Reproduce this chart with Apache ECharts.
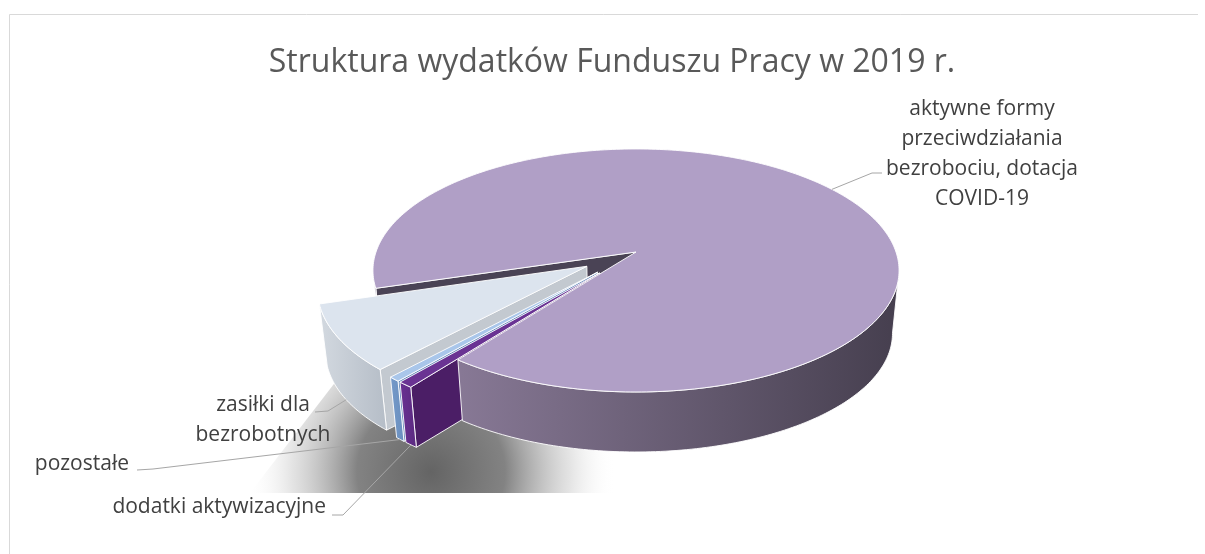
<!DOCTYPE html>
<html><head><meta charset="utf-8">
<script src="https://cdn.jsdelivr.net/npm/echarts@6/dist/echarts.min.js"></script>
<style>html,body{margin:0;padding:0;background:#fff}#c{width:1205px;height:554px}</style>
</head><body><div id="c"></div>
<script>
// ---- data ----
const categories = ['aktywne formy przeciwdziałania bezrobociu, dotacja COVID-19', 'dodatki aktywizacyjne', 'pozostałe', 'zasiłki dla bezrobotnych'];
const labelTexts = ['aktywne formy\nprzeciwdziałania\nbezrobociu, dotacja\nCOVID-19', 'dodatki aktywizacyjne', 'pozostałe', 'zasiłki dla\nbezrobotnych'];
const shares = [90.0, 0.8, 0.6, 8.6];
const exploded = [false, true, true, true];
const titleText = 'Struktura wydatków Funduszu Pracy w 2019 r.';

// ---- styles / layout ----
const startAngle = 253;
const topColors = ['#B09FC6', '#6A3393', '#A9C6EA', '#DCE4EE'];
const faceColors = ['#4A4355', '#4B1E66', '#6488B8', '#C3C9D0'];
const wallColors = [['#887996', '#463f4f'], ['#6A3193', '#5a2a80'], ['#7499C9', '#6a8fbe'], ['#d3d9e0', '#b5bdc7']];
const labelLayout = [
  {x: 982, y: 154, align: 'center', leader: [[882, 173], [872, 173]]},
  {x: 326, y: 507, align: 'right', leader: [[332, 515], [343, 515]]},
  {x: 129, y: 464, align: 'right', leader: [[137, 470], [153, 469]]},
  {x: 263, y: 420, align: 'center', leader: [[315, 412], [328, 411]]}
];
const G = {cx: 636, cy: 252, A: 260, B: 118.7, k: 0.152, s: 0.975, D: 63.5, explode: 0.22};
const FONT = "'Open Sans', 'Noto Sans', sans-serif";

const RAD = Math.PI / 180;
const total = shares.reduce((a, b) => a + b, 0);
const cum = []; let acc = 0; shares.forEach(v => { cum.push(acc); acc += v; });

function P(u, v, bottom) {
  const w = 1 - G.k * v;
  if (!bottom) return [G.cx + G.A * u / w, G.cy + G.B * v / w];
  return [G.cx + G.A * G.s * u / w, G.cy + G.D + G.B * G.s * v / w];
}
function rimPt(th, off, bottom) { return P(off[0] + Math.sin(th * RAD), off[1] - Math.cos(th * RAD), bottom); }
function arc(a, b, off, bottom) {
  const pts = []; const n = Math.max(2, Math.ceil(Math.abs(b - a)));
  for (let j = 0; j <= n; j++) pts.push(rimPt(a + (b - a) * j / n, off, bottom));
  return pts;
}
const silh = Math.acos(-G.k) / RAD;
function visibleRanges(a, b) {
  const out = [];
  for (let n = -1; n <= 2; n++) {
    const lo = silh + 360 * n, hi = 360 - silh + 360 * n;
    const x = Math.max(a, lo), y = Math.min(b, hi);
    if (y > x) out.push([x, y]);
  }
  return out;
}

function renderItem(params, api) {
  const i = params.dataIndex;
  const val = api.value(0);
  const a0 = startAngle + 360 * cum[i] / total;
  const a1 = a0 + 360 * val / total;
  const mid = (a0 + a1) / 2;
  const e = exploded[i] ? G.explode : 0;
  const off = [e * Math.sin(mid * RAD), -e * Math.cos(mid * RAD)];
  const apexT = P(off[0], off[1], false), apexB = P(off[0], off[1], true);
  const edge = {stroke: 'rgba(255,255,255,0.9)', lineWidth: 1, lineJoin: 'round'};
  const n = shares.length - 1;
  const faceZ = exploded[i] ? 2 + (n - i) : 1;
  const baseZ = exploded[i] ? 30 + (n - i) * 2 : 20;
  const children = [];
  if (-Math.sin(a0 * RAD) > 0) {
    children.push({type: 'polygon', z2: faceZ, shape: {points: [apexT, rimPt(a0, off, false), rimPt(a0, off, true), apexB]},
      style: Object.assign({fill: faceColors[i]}, edge)});
  }
  if (Math.sin(a1 * RAD) > 0) {
    children.push({type: 'polygon', z2: faceZ, shape: {points: [apexT, rimPt(a1, off, false), rimPt(a1, off, true), apexB]},
      style: Object.assign({fill: faceColors[i]}, edge)});
  }
  visibleRanges(a0, a1).forEach(r => {
    const pts = arc(r[0], r[1], off, false).concat(arc(r[1], r[0], off, true));
    const grad = i === 0
      ? new echarts.graphic.LinearGradient(G.cx - 0.7 * G.A, 0, G.cx + G.A, 0, [{offset: 0, color: wallColors[i][0]}, {offset: 1, color: wallColors[i][1]}], true)
      : new echarts.graphic.LinearGradient(0, 0, 1, 0, [{offset: 0, color: wallColors[i][0]}, {offset: 1, color: wallColors[i][1]}]);
    children.push({type: 'polygon', z2: baseZ, shape: {points: pts}, style: Object.assign({fill: grad}, edge)});
  });
  children.push({type: 'polygon', z2: baseZ + 1, shape: {points: [apexT].concat(arc(a0, a1, off, false))},
    style: Object.assign({fill: topColors[i]}, edge)});
  // leader line + label
  const front = -Math.cos(mid * RAD) > 0;
  const anchor = rimPt(mid, off, front);
  const L = labelLayout[i];
  children.push({type: 'polyline', z2: 50, shape: {points: [L.leader[0], L.leader[1], anchor]},
    style: {stroke: '#A6A6A6', lineWidth: 1, fill: null}});
  children.push({type: 'text', z2: 51, x: L.x, y: L.y,
    style: {text: labelTexts[i], fill: '#404040', fontSize: 21, fontFamily: FONT,
      align: L.align, textAlign: L.align, verticalAlign: 'middle', textVerticalAlign: 'middle', lineHeight: 30}});
  return {type: 'group', children};
}

const chart = echarts.init(document.getElementById('c'), null, {renderer: 'canvas'});
chart.setOption({
  animation: false,
  backgroundColor: '#ffffff',
  title: {
    text: titleText, left: 607, top: 42, textAlign: 'center',
    textStyle: {fontSize: 32, fontWeight: 'normal', color: '#595959', fontFamily: FONT}
  },
  graphic: [
    {type: 'line', z: 0, shape: {x1: 9.5, y1: 14.5, x2: 1198, y2: 14.5}, style: {stroke: '#D9D9D9', lineWidth: 1}},
    {type: 'line', z: 0, shape: {x1: 9.5, y1: 14.5, x2: 9.5, y2: 554}, style: {stroke: '#D9D9D9', lineWidth: 1}},
    {type: 'polygon', z: 0, shape: {points: [[G.cx - 386, 493], [G.cx - 296, 376], [G.cx - 160, 380], [G.cx, 440], [G.cx, 493]]},
      style: {fill: new echarts.graphic.RadialGradient(G.cx - 205, 472, 185, [
        {offset: 0, color: 'rgba(100,100,100,1)'}, {offset: 0.4, color: 'rgba(120,120,120,0.92)'},
        {offset: 0.75, color: 'rgba(200,200,200,0.5)'}, {offset: 1, color: 'rgba(255,255,255,0)'}], true)}}
  ],
  series: [{
    type: 'custom', coordinateSystem: 'none', z: 2, silent: true,
    renderItem: renderItem,
    data: shares.map((v, i) => ({name: categories[i], value: [v]}))
  }]
});
</script></body></html>
